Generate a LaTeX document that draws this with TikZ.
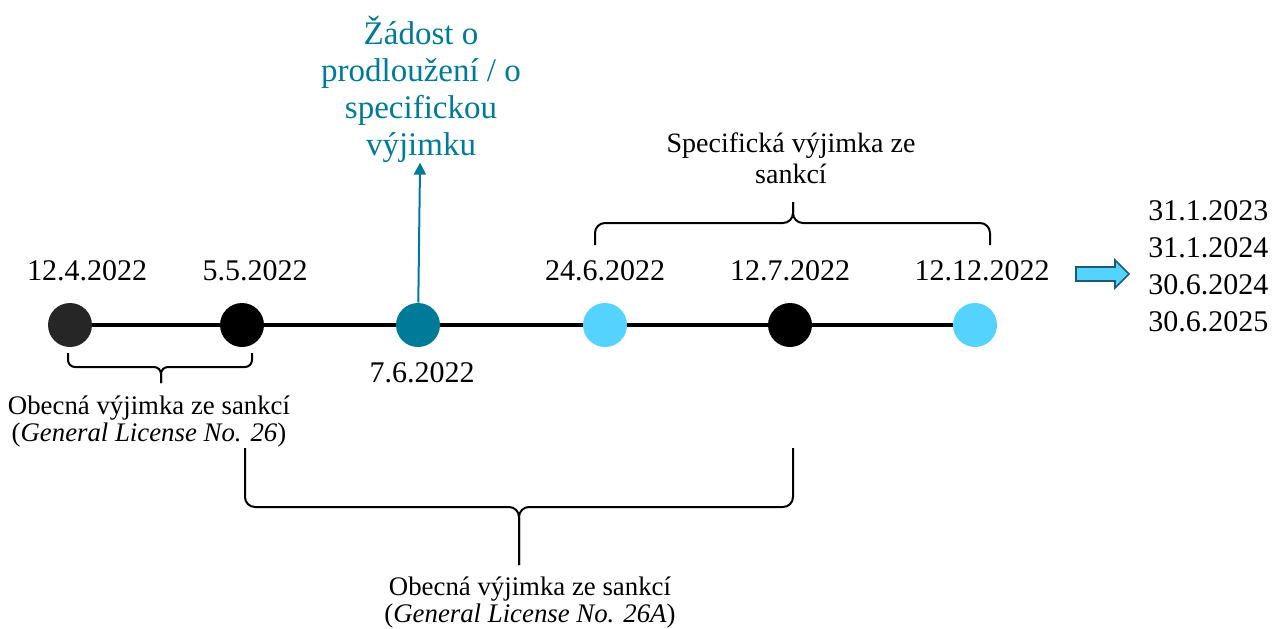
\documentclass[tikz,border=0pt]{standalone}
\usepackage{fontspec}
\setmainfont{Liberation Serif}
\usepackage{tikz}
\usetikzlibrary{arrows.meta, positioning}
\definecolor{eventteal}{RGB}{0, 122, 153}
\definecolor{eventsky}{RGB}{85, 211, 255}
\definecolor{eventgrey}{RGB}{38, 38, 38}
\definecolor{arrowedge}{RGB}{30, 90, 115}

\begin{document}
\begin{tikzpicture}[
    x=0.5pt, y=-0.5pt, >=Stealth,
    dot/.style={circle, minimum size=22pt, inner sep=0pt},
    datelabel/.style={font=\fontsize{15}{18.5}\selectfont, inner sep=0pt},
    spanlabel/.style={font=\fontsize{13.4}{13.5}\selectfont, align=center, inner sep=0pt},
    timeline/.style={draw, line width=2pt, black},
    spanbrace/.style={draw, line width=1pt, rounded corners=5pt},
    request/.style={draw=eventteal, line width=1pt, -{Triangle[length=6pt, width=6pt]}},
    extarrow/.style={draw=arrowedge, fill=eventsky, line width=0.8pt, line join=miter}
  ]
    \useasboundingbox (0,0) rectangle (1275,628);

    % events
    \node (d1) [dot, fill=eventgrey] at (70,325) {};
    \node (d2) [dot, fill=black] at (242,325) {};
    \node (d3) [dot, fill=eventteal] at (418,325) {};
    \node (d4) [dot, fill=eventsky] at (605,325) {};
    \node (d5) [dot, fill=black] at (790,325) {};
    \node (d6) [dot, fill=eventsky] at (975,325) {};

    \draw[timeline] (d1) -- (d2);
    \draw[timeline] (d2) -- (d3);
    \draw[timeline] (d3) -- (d4);
    \draw[timeline] (d4) -- (d5);
    \draw[timeline] (d5) -- (d6);

    % dates
    \node (t1) [datelabel, above=10.5pt of d1, xshift=8.5pt] {12.4.2022};
    \node (t2) [datelabel, above=10.5pt of d2, xshift=6.5pt] {5.5.2022};
    \node (t3) [datelabel, below=7.5pt of d3, xshift=2pt] {7.6.2022};
    \node (t4) [datelabel, above=10.5pt of d4] {24.6.2022};
    \node (t5) [datelabel, above=10.5pt of d5] {12.7.2022};
    \node (t6) [datelabel, above=10.5pt of d6, xshift=3.5pt] {12.12.2022};

    % request
    \node (req) [font=\fontsize{16.5}{18.5}\selectfont, text=eventteal, align=center, inner sep=0pt, above=70pt of d3, xshift=1.5pt] {Žádost o\\prodloužení / o\\specifickou\\výjimku};
    \draw[request] (d3) -- (req);

    % extensions
    \coordinate (ext) at (1076,274);
    \coordinate (exttip) at (1129,274);
    \draw[extarrow] (ext) ++(0,-7) -- ++(39,0) -- ++(0,-7) -- (exttip) -- ++(-14,14) -- ++(0,-7) -- ++(-39,0) -- cycle;
    \node (extdates) [datelabel, align=left, right=9.5pt of exttip, yshift=4pt] {31.1.2023\\31.1.2024\\30.6.2024\\30.6.2025};

    % braces
    \coordinate (gl26) at (161,383);
    \draw[spanbrace, rounded corners=3.5pt] (68,353) -- (68,367) -- (gl26 |- 0,367) -- (gl26);
    \draw[spanbrace, rounded corners=3.5pt] (252,353) -- (252,367) -- (gl26 |- 0,367) -- (gl26);
    \node (gl26txt) [spanlabel, below=6pt of gl26, xshift=-6pt] {Obecná výjimka ze sankcí\\(\textit{General License No. 26})};

    \coordinate (gl26a) at (519,565);
    \draw[spanbrace] (245,448) -- (245,507) -- (gl26a |- 0,507) -- (gl26a);
    \draw[spanbrace] (793,448) -- (793,507) -- (gl26a |- 0,507) -- (gl26a);
    \node (gl26atxt) [spanlabel, below=5.5pt of gl26a, xshift=5.5pt] {Obecná výjimka ze sankcí\\(\textit{General License No. 26A})};

    \coordinate (spec) at (793,202);
    \draw[spanbrace] (595,245) -- (595,223) -- (spec |- 0,223) -- (spec);
    \draw[spanbrace] (990,245) -- (990,223) -- (spec |- 0,223) -- (spec);
    \node (spectxt) [spanlabel, font=\fontsize{14}{15.5}\selectfont, above=9pt of spec, xshift=-1pt] {Specifická výjimka ze\\sankcí};
  \end{tikzpicture}
\end{document}
